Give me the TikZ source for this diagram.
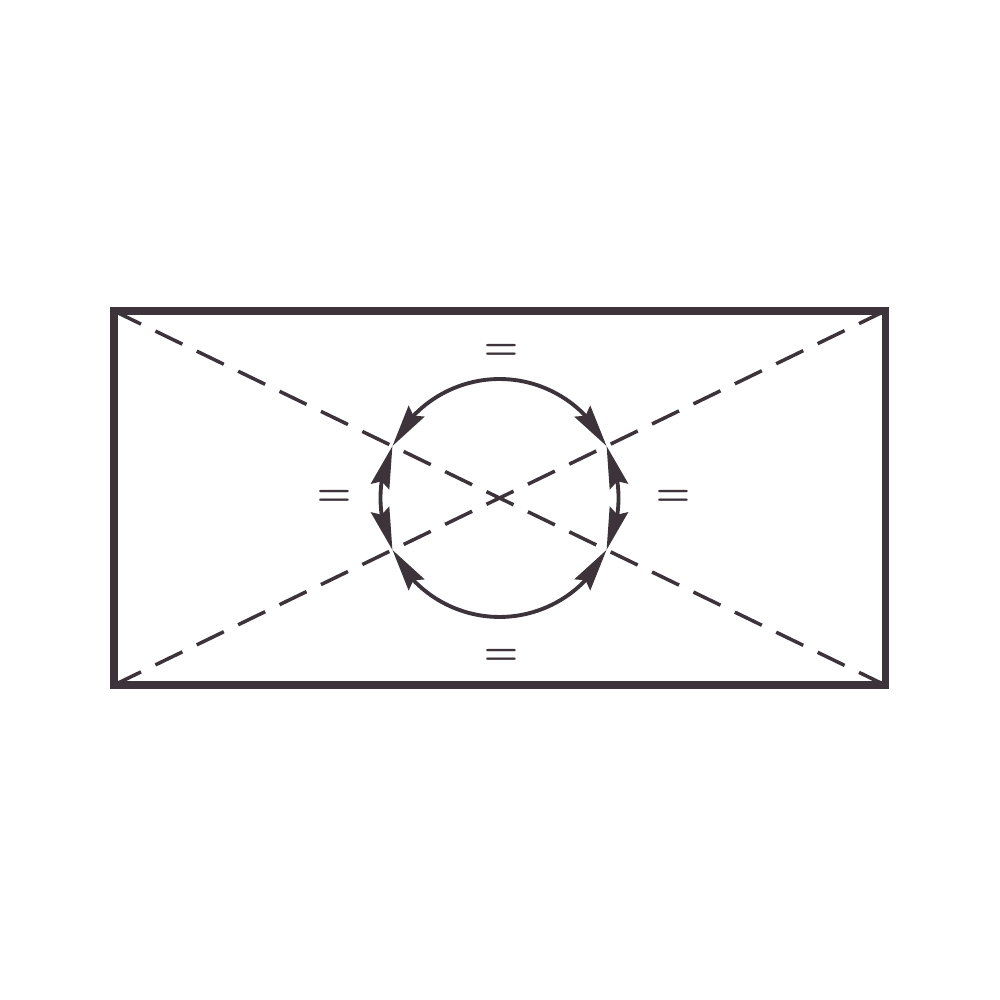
\documentclass[tikz,border=0pt]{standalone}
\usetikzlibrary{arrows.meta,bending,calc}
\definecolor{inkgray}{RGB}{60,52,58}

\begin{document}
\begin{tikzpicture}
[boxDecorate/.style={draw=inkgray,line width=2pt},%
  diagDecorate/.style={-,draw=inkgray,line width=1pt,dash pattern=on 0.30cm off 0.16cm},
  tipDecorate/.tip={Stealth[length=12pt,width=5.4pt,inset=1.5pt]},
  arcDecorate/.style={draw=inkgray,line width=1.1pt,tipDecorate-tipDecorate},
  eqDecorate/.style={text=inkgray,inner sep=0pt,font=\fontsize{11}{13}\selectfont\boldmath},
  scale=1]
\useasboundingbox (-5,-5.02) rectangle (5,4.98);
%% corners of the box
\foreach \nodename/\x/\y in {
  nw/-3.86/1.87, ne/3.85/1.87, se/3.85/-1.87, sw/-3.86/-1.87}
{
  \coordinate (\nodename) at (\x,\y);
}
\draw[boxDecorate] (nw) -- (ne) -- (se) -- (sw) -- cycle;
%% diagonals
\path
\foreach \startnode/\endnode in {nw/se, sw/ne}
{
  (\startnode) edge[diagDecorate] (\endnode)
};
%% vertices where the loop meets the diagonals
\coordinate (o) at ($(nw)!0.5!(se)$);
\foreach \nodename/\corner in {ur/ne, ul/nw, ll/sw, lr/se}
{
  \coordinate (\nodename) at ($(o)!1.19cm!(\corner)$);
}
%% the loop, four arcs
\draw[arcDecorate] (ul) arc[start angle=154.1, end angle=25.9, radius=1.19];
\draw[arcDecorate] (ul) arc[start angle=154.1, end angle=205.9, radius=1.19];
\draw[arcDecorate] (ll) arc[start angle=205.9, end angle=334.1, radius=1.19];
\draw[arcDecorate] (lr) arc[start angle=-25.9, end angle=25.9, radius=1.19];
%% labels
\foreach \nodename/\x/\y in {
  eqtop/0.01/1.46, eqbot/0.01/-1.59, eqleft/-1.66/0, eqright/1.73/0}
{
  \node[eqDecorate] (\nodename) at (\x,\y) {$=$};
}
\end{tikzpicture}
\end{document}
